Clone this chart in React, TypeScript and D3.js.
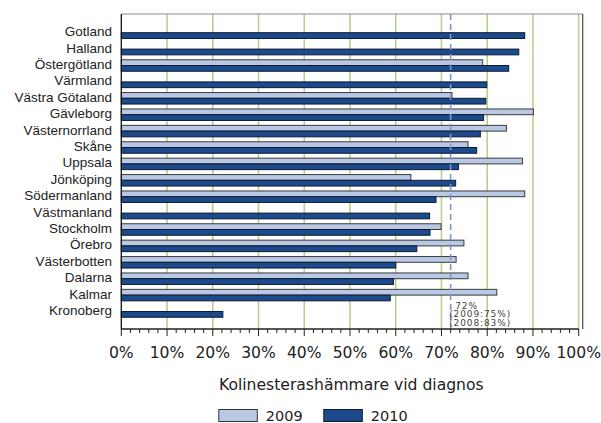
import React from "react";
import * as d3 from "d3";

const regions = [
  "Gotland", "Halland", "Östergötland", "Värmland", "Västra Götaland", "Gävleborg",
  "Västernorrland", "Skåne", "Uppsala", "Jönköping", "Södermanland", "Västmanland",
  "Stockholm", "Örebro", "Västerbotten", "Dalarna", "Kalmar", "Kronoberg",
];
const values2009: (number | null)[] = [
  null, null, 79, null, 72.3, 90.1, 84.2, 75.8, 87.7, 63.3, 88.2, null,
  69.9, 74.9, 73.2, 75.8, 82.1, null,
];
const values2010: (number | null)[] = [
  88.2, 86.9, 84.7, 79.9, 79.7, 79.2, 78.5, 77.7, 73.7, 73.1, 68.8, 67.4,
  67.5, 64.6, 60, 59.5, 58.8, 22.2,
];
const seriesNames = ["2009", "2010"];
const xTicks = [0, 10, 20, 30, 40, 50, 60, 70, 80, 90, 100];
const targetValue = 72;
const annotation = ["72%", "(2009:75%)", "(2008:83%)"];
const axisTitle = "Kolinesterashämmare vid diagnos";

const W = 601;
const H = 423;
const plotTop = 14;
const plotBottom = 329;

export default function App() {
  const x = d3.scaleLinear().domain([0, 100]).range([121.3, 578.7]);
  const y = d3.scaleBand<string>().domain(regions).range([24.5, 319.7]).padding(0);
  const bw = y.bandwidth();
  const barH = bw * 0.35;
  const fill09 = "#b9c8e4";
  const fill10 = "#1d4a8a";
  const gridColor = "#b5d28c";
  const minorTicks = d3.range(0, 101, 2);
  const plotRight = x(100) + 4;
  const legendFont = "DejaVu Sans, Verdana, sans-serif";

  return (
    <svg width={W} height={H} style={{ position: "absolute", left: 0, top: 0, background: "#fff" }}>
      {/* gridlines */}
      {xTicks.filter((t) => t > 0).map((t) => (
        <line key={"g" + t} x1={x(t)} x2={x(t)} y1={plotTop} y2={plotBottom} stroke={gridColor} strokeWidth={1.6} />
      ))}
      {/* frame */}
      <line x1={x(0)} x2={plotRight} y1={plotTop} y2={plotTop} stroke="#8a8a8a" strokeWidth={1.2} />
      <line x1={plotRight} x2={plotRight} y1={plotTop} y2={plotBottom} stroke="#444" strokeWidth={1.2} />
      {/* bars */}
      {regions.map((r, i) => {
        const y0 = (y(r) as number) + bw / 2 - barH;
        const v9 = values2009[i];
        const v10 = values2010[i];
        return (
          <g key={r}>
            {v9 != null && (
              <rect x={x(0)} y={y0} width={x(v9) - x(0)} height={barH} fill={fill09} stroke="#3a3a3a" strokeWidth={1} />
            )}
            {v10 != null && (
              <rect x={x(0)} y={y0 + barH} width={x(v10) - x(0)} height={barH} fill={fill10} stroke="#0a1a33" strokeWidth={1} />
            )}
          </g>
        );
      })}
      {/* target line */}
      <line x1={x(targetValue)} x2={x(targetValue)} y1={plotTop} y2={plotBottom} stroke="#7b98c6" strokeWidth={1.6} strokeDasharray="6,4" />
      {annotation.map((t, i) => (
        <text key={t} x={x(targetValue) + (i === 0 ? 4.5 : -1.5)} y={306 + i * 8.3} dominantBaseline="central"
          fontFamily={legendFont} fontSize={9} letterSpacing={0.9} fill="#444">{t}</text>
      ))}
      {/* left axis */}
      <line x1={x(0)} x2={x(0)} y1={plotTop} y2={plotBottom} stroke="#111" strokeWidth={1.3} />
      {/* category labels */}
      {regions.map((r) => (
        <text key={"l" + r} x={112} y={(y(r) as number) + bw / 2 - 1} textAnchor="end" dominantBaseline="central"
          fontFamily="Liberation Sans, Arial, sans-serif" fontSize={13.5} fill="#222">{r}</text>
      ))}
      {/* bottom axis */}
      <line x1={x(0)} x2={x(100)} y1={plotBottom} y2={plotBottom} stroke="#222" strokeWidth={1.3} />
      {minorTicks.map((t) => (
        <line key={"m" + t} x1={x(t)} x2={x(t)} y1={plotBottom} y2={t % 10 === 0 ? plotBottom + 7 : plotBottom + 4}
          stroke="#222" strokeWidth={1} />
      ))}
      {xTicks.map((t) => (
        <text key={"t" + t} x={x(t)} y={353} textAnchor="middle" dominantBaseline="central"
          fontFamily={legendFont} fontSize={15.6} fill="#222">{t + "%"}</text>
      ))}
      <text x={351.3} y={385} textAnchor="middle" dominantBaseline="central" fontFamily={legendFont} fontSize={15.6} fill="#222">
        {axisTitle}
      </text>
      {/* legend */}
      {seriesNames.map((s, i) => {
        const lx = 218.8 + i * 105;
        return (
          <g key={s}>
            <rect x={lx} y={409.5} width={38.5} height={12} fill={i === 0 ? fill09 : fill10} stroke={i === 0 ? "#333" : "#0a1a33"} strokeWidth={1} />
            <text x={lx + 47} y={416} dominantBaseline="central" fontFamily={legendFont} fontSize={14.5} fill="#222">{s}</text>
          </g>
        );
      })}
    </svg>
  );
}
